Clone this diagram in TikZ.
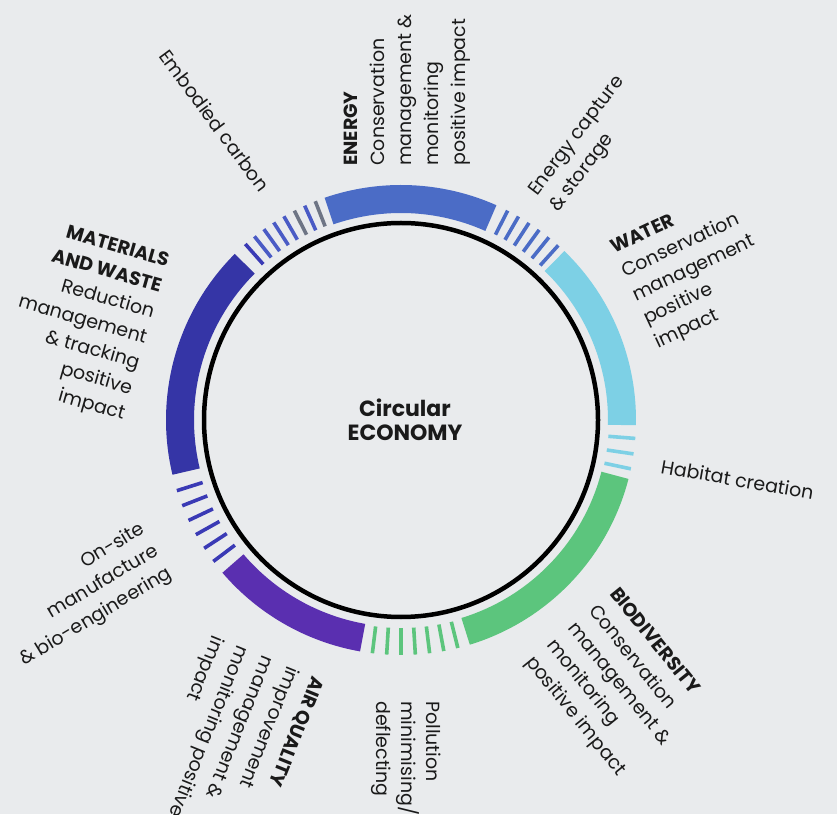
\documentclass[tikz,border=0pt]{standalone}
\usepackage{fontspec}
\setmainfont{Poppins}
\usetikzlibrary{calc}
\definecolor{bg}{HTML}{E9EBED}
\definecolor{txt}{HTML}{1A1A1A}
\definecolor{cEnergy}{HTML}{4B6CC6}
\definecolor{cWater}{HTML}{7DD0E5}
\definecolor{cBio}{HTML}{5CC57D}
\definecolor{cAir}{HTML}{5A2FB0}
\definecolor{cMat}{HTML}{3535A6}
\definecolor{cOnsite}{HTML}{3A3AB5}
\definecolor{cEmb}{HTML}{4A5BC5}
\definecolor{cGray}{HTML}{6E7585}
\tikzset{
  lbl/.style={inner sep=0pt, text=txt, font=\fontsize{19}{23}\selectfont},
  ctr/.style={inner sep=0pt, text=txt, font=\fontsize{22}{25}\selectfont\bfseries},
  ringseg/.style={line width=28pt},
  stripeln/.style={line width=3.6pt},
}
\newcommand\lblock[7]{%
  \foreach \ln [count=\i from 0] in {#7} {
    \node[lbl, rotate=#4, anchor=#6] (#1\i) at ($(#2,#3)+({#4-90}:{\i*#5})$) {\ln};
  }%
}
\newcommand\seg[3]{\draw[ringseg, #1] ($(C)+(#2:221)$) arc[start angle=#2, end angle=#3, radius=221];}
\newcommand\stripe[2]{\draw[stripeln, #1] ($(C)+(#2:208)$) -- ($(C)+(#2:235)$);}
\begin{document}
\begin{tikzpicture}[x=1pt,y=1pt]
\useasboundingbox (0,0) rectangle (837,814);
\fill[bg] (0,0) rectangle (837,814);
\coordinate (C) at (401,394);
% ring segments
\seg{cEnergy}{66}{109}
\seg{cWater}{-1.3}{46}
\seg{cBio}{-73}{-14.5}
\seg{cAir}{-139.5}{-100}
\seg{cMat}{135}{193.5}
% stripes
\foreach \a in {48,51,54,57,60,63} {\stripe{cEnergy}{\a}}
\foreach \a in {-4.5,-8.3,-12} {\stripe{cWater}{\a}}
\foreach \a in {-76,-79.5,-83,-86.5,-90,-93.5,-97} {\stripe{cBio}{\a}}
\foreach \a in {197.5,201.4,205.3,209.2,213.1,217} {\stripe{cOnsite}{\a}}
\foreach \a/\c in {131.5/cOnsite,128.6/cEmb,125.7/cEmb,122.8/cEmb,119.9/cEmb,117/cGray,114.2/cEmb,111.4/cGray} {\stripe{\c}{\a}}
% core circle
\node[circle, draw=black, line width=4.5pt, minimum size=394pt, inner sep=0pt] (core) at (C) {};
\node[ctr, anchor=base] (circ) at (405,397) {Circular};
\node[ctr, anchor=base] (econ) at (405,373) {ECONOMY};
% labels
\lblock{energy}{357}{648}{90}{27}{base west}{{\textbf{ENERGY}},Conservation,management \&,monitoring,positive impact}
\lblock{emb}{158}{758}{-53.5}{26}{base west}{Embodied carbon}
\lblock{cap}{537}{617}{53}{26.5}{base west}{Energy capture,\& storage}
\lblock{water}{614}{560}{25}{26}{base west}{{\textbf{WATER}},Conservation,management,positive,impact}
\lblock{hab}{660}{341}{-10}{26}{base west}{Habitat creation}
\lblock{bio}{609}{220}{-51}{27}{base west}{{\textbf{BIODIVERSITY}},Conservation,management \&,monitoring,positive impact}
\lblock{poll}{426}{113}{-90}{25}{base west}{Pollution,minimising/,deflecting}
\lblock{air}{313}{139}{-112}{27}{base west}{{\textbf{AIR QUALITY}},improvement,management \&,monitoring positive,impact}
\lblock{onsite}{146}{282}{31}{26}{base east}{On-site,manufacture,\& bio-engineering}
\lblock{mat}{167}{547}{-16}{26.5}{base east}{{\textbf{MATERIALS}},{\textbf{AND WASTE}},Reduction,management,\& tracking,positive,impact}
\end{tikzpicture}
\end{document}
